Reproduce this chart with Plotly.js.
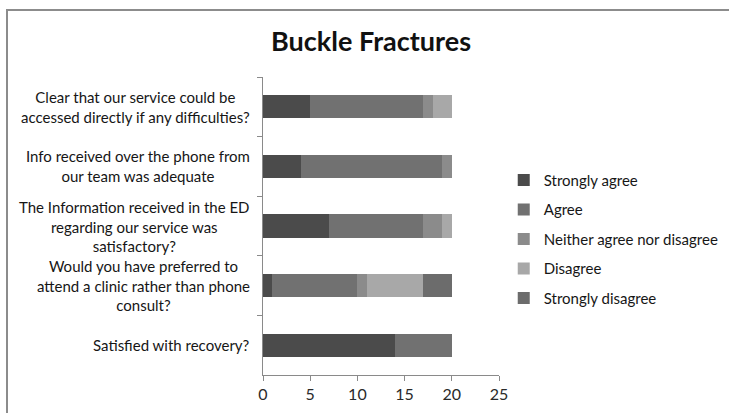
<!DOCTYPE html>
<html>
<head>
<meta charset="utf-8">
<script src="https://cdn.plot.ly/plotly-3.0.1.min.js"></script>
<style>
  html, body { margin: 0; padding: 0; background: #ffffff; }
  #frame { position: absolute; left: 0; top: 0; width: 729px; height: 413px; overflow: hidden; }
  #edge { position: absolute; left: 6px; top: 9px; width: 740px; height: 420px;
          border-left: 2px solid #8c8c8c; border-top: 2px solid #8c8c8c; pointer-events: none; }
  #chart { position: absolute; left: 0; top: 0; width: 729px; height: 413px; }
</style>
</head>
<body>
<div id="frame">
  <div id="chart"></div>
  <div id="edge"></div>
</div>
<script>
// Survey questions, listed top to bottom
const questions = [
  "Clear that our service could be<br>accessed directly if any difficulties?",
  "Info received over the phone from<br>our team was adequate",
  "The Information received in the ED<br>regarding our service was<br>satisfactory?",
  "Would you have preferred to<br>attend a clinic rather than phone<br>consult?",
  "Satisfied with recovery?"
];

// Response categories
const responses = ["Strongly agree", "Agree", "Neither agree nor disagree", "Disagree", "Strongly disagree"];

// Number of patients per response, one value per question
const stronglyAgree    = [5, 4, 7, 1, 14];
const agree            = [12, 15, 10, 9, 6];
const neither          = [1, 1, 2, 1, 0];
const disagree         = [2, 0, 1, 6, 0];
const stronglyDisagree = [0, 0, 0, 3, 0];

const counts = [stronglyAgree, agree, neither, disagree, stronglyDisagree];
const shades = ["#4b4b4b", "#717171", "#8b8b8b", "#a8a8a8", "#6c6c6c"];

const FONT = "Lato, 'Open Sans', sans-serif";

const traces = responses.map((name, i) => ({
  type: "bar",
  orientation: "h",
  name: name,
  legendgroup: name,
  y: questions,
  x: counts[i],
  marker: { color: shades[i], line: { width: 0 } },
  hoverinfo: "x+name"
}));

// Question labels: block right-aligned beside the axis, lines centred
const labels = questions.map(q => ({
  xref: "paper", yref: "y",
  x: -0.045, y: q,
  text: q,
  showarrow: false,
  xanchor: "right",
  yanchor: "middle",
  align: "center",
  font: { family: FONT, size: 15, color: "#161616" }
}));

const layout = {
  width: 729,
  height: 413,
  margin: { l: 263, r: 230, t: 77, b: 38 },
  paper_bgcolor: "#ffffff",
  plot_bgcolor: "#ffffff",
  barmode: "stack",
  bargap: 0.61,
  showlegend: true,
  title: {
    text: "<b>Buckle Fractures</b>",
    font: { family: FONT, size: 27, color: "#111111" },
    x: 0.509, xref: "container", xanchor: "center",
    y: 0.9, yref: "container", yanchor: "middle"
  },
  xaxis: {
    range: [0, 25],
    dtick: 5,
    tick0: 0,
    showgrid: false,
    zeroline: false,
    showline: true,
    linecolor: "#8a8a8a",
    linewidth: 1,
    ticks: "outside",
    ticklen: 5,
    tickcolor: "#8a8a8a",
    tickfont: { family: FONT, size: 16, color: "#2a2a2a" },
    fixedrange: true
  },
  yaxis: {
    type: "category",
    categoryorder: "array",
    categoryarray: questions,
    autorange: "reversed",
    showticklabels: false,
    showgrid: false,
    zeroline: false,
    showline: true,
    linecolor: "#8a8a8a",
    linewidth: 1,
    ticks: "outside",
    tickson: "boundaries",
    ticklen: 5,
    tickcolor: "#8a8a8a",
    fixedrange: true
  },
  legend: {
    x: 0.691, xref: "container",
    y: 0.421, yref: "container",
    xanchor: "left", yanchor: "middle",
    traceorder: "grouped",
    tracegroupgap: 7,
    font: { family: FONT, size: 15, color: "#161616" },
    bgcolor: "rgba(0,0,0,0)"
  },
  annotations: labels
};

Plotly.newPlot("chart", traces, layout, { displayModeBar: false, staticPlot: true });
</script>
</body>
</html>
